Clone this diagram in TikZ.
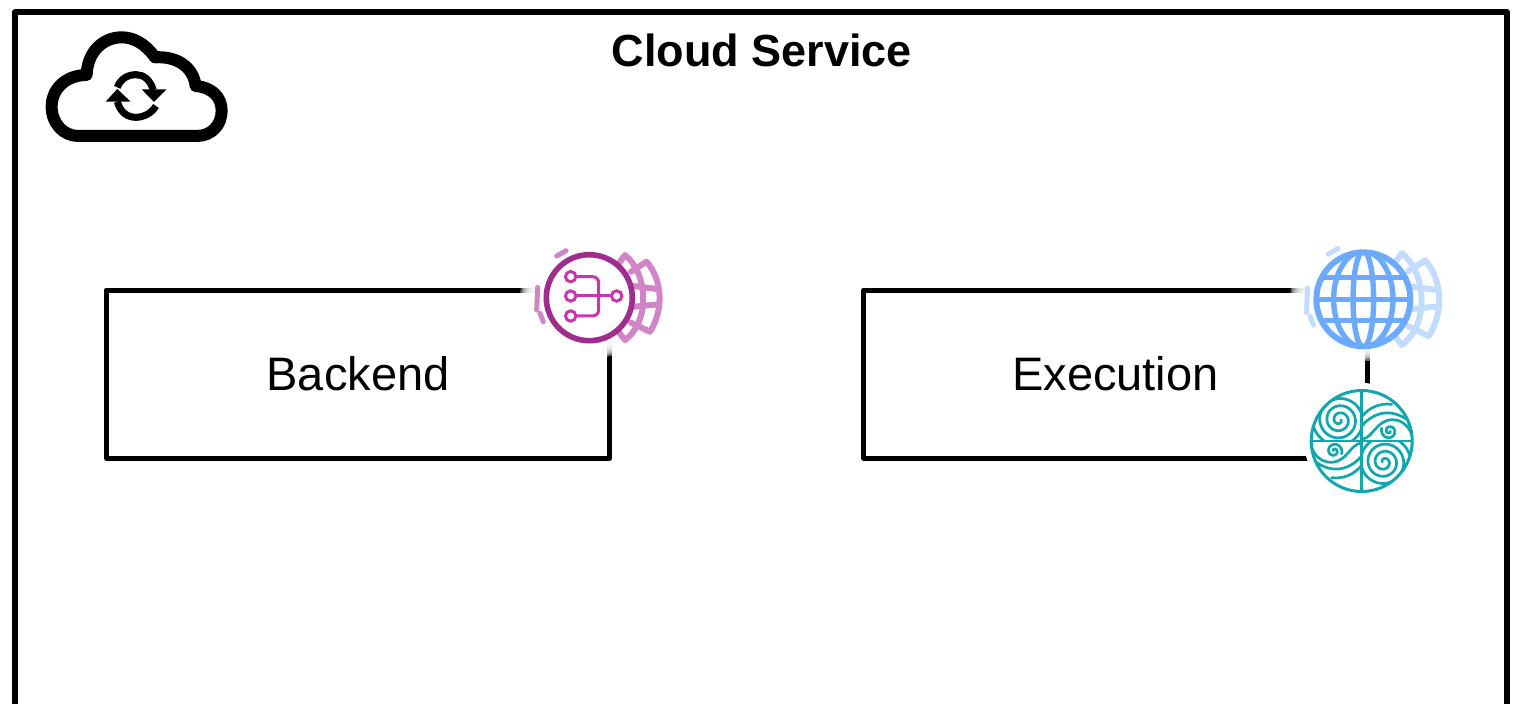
\documentclass[tikz,border=0pt]{standalone}
\usepackage{fontspec}
\setmainfont{Liberation Sans}
\definecolor{purpA}{HTML}{A02C8E}
\definecolor{purpB}{HTML}{C935AE}
\definecolor{purpC}{HTML}{D184C6}
\definecolor{bluA}{HTML}{6CAAFF}
\definecolor{bluC}{HTML}{C2DCFF}
\definecolor{tealA}{HTML}{10A7AE}
\tikzset{
  outerframe/.style={draw=black,line width=5.5pt,line join=round},
  boxnode/.style={draw=black,line width=5pt,line join=round,rectangle,minimum width=503.5pt,minimum height=168pt,inner sep=0pt,font=\fontsize{47}{50}\selectfont},
  titlenode/.style={font=\fontsize{45}{50}\selectfont\bfseries,inner sep=0pt},
  cloudline/.style={draw=black,line width=12pt,line join=round},
  syncline/.style={draw=black,line width=7pt},
  wave/.style={draw=tealA,line width=2.7pt,line cap=round}
}
% fading white halo, centre #1, radii #2 #3
\newcommand\halo[3]{%
  \foreach \k in {1.0,0.97,...,0.76}{
    \fill[white,opacity=.4] #1 ellipse [x radius=\k*#2,y radius=\k*#3];
  }
}
% back grid and dashes, centre #1, scale #2, colour #3
\newcommand\backgrid[3]{%
  \begin{scope}[shift={#1},x=#2*0.3333pt,y=-#2*0.3333pt,draw=#3,line width=6pt,line cap=round,line join=round]
    \draw (125,-78) -- (172,-108) .. controls (222,-50) and (222,40) .. (182,102) -- (125,75);
    \draw (90,-105) -- (107,-128) .. controls (175,-75) and (185,70) .. (107,127) -- (90,105);
    \draw (125,-36) -- (205,-26);
    \draw (125,28) -- (205,20);
    \draw[line width=5pt] (-155,-31) -- (-158,37);
    \draw[line width=5pt] (-148,47) -- (-138,72);
    \draw[line width=5pt] (-98,-125) -- (-70,-141);
  \end{scope}%
}
\begin{document}
\begin{tikzpicture}[x=1pt,y=-1pt]
\useasboundingbox (0,0) rectangle (1519,704);
\fill[white] (0,0) rectangle (1519,704);
% outer frame
\begin{scope}
  \clip (0,0) rectangle (1519,704);
  \draw[outerframe] (15,720) -- (15,12) -- (1507,12) -- (1507,720);
\end{scope}
\node[titlenode] (title) at (762,50) {Cloud Service};
% boxes
\node[boxnode] (backend) at (358,374) {\raisebox{-1pt}{Backend}};
\node[boxnode] (execution) at (1115.5,374) {\raisebox{-1pt}{Execution}};
% cloud icon
\begin{scope}[x=0.3333pt,y=-0.3333pt]
  \coordinate (cloudicon) at (408,288);
  \draw[cloudline] (235,408) -- (590,408) .. controls (635,408) and (665,375) .. (665,332)
    .. controls (665,290) and (635,262) .. (587,258)
    .. controls (580,200) and (530,168) .. (465,172)
    .. controls (435,130) and (400,112) .. (365,112)
    .. controls (310,112) and (262,155) .. (260,225)
    .. controls (200,225) and (155,265) .. (155,320)
    .. controls (155,370) and (190,408) .. (235,408) -- cycle;
  \draw[syncline] (352,262) .. controls (362,235) and (385,224) .. (408,224) .. controls (430,224) and (450,238) .. (460,270);
  \fill[black] (425,268) -- (500,268) -- (462,306) -- cycle;
  \draw[syncline] (468,318) .. controls (455,340) and (430,352) .. (408,352) .. controls (385,352) and (362,340) .. (352,305);
  \fill[black] (317,305) -- (392,305) -- (352,267) -- cycle;
\end{scope}
% backend icon
\halo{(592,298)}{72}{60}
\backgrid{(589.3,297.7)}{1}{purpC}
\filldraw[draw=purpA,fill=white,line width=5.6pt] (589.3,297.7) circle (43);
\begin{scope}[shift={(510,230)},x=0.3333pt,y=-0.3333pt]
  \coordinate (routericon) at (238,203);
  \draw[purpB,line width=3pt,rounded corners=6pt] (198,140) -- (266,140) -- (266,258) -- (198,258);
  \draw[purpB,line width=3pt] (198,198) -- (303,198);
  \foreach \p in {(182,140),(182,198),(182,258),(320,198)}
    \filldraw[draw=purpB,fill=white,line width=3pt] \p circle (5.2pt);
\end{scope}
% globe icon
\halo{(1366,299)}{76}{62}
\backgrid{(1363.3,299.3)}{1.08}{bluC}
\fill[white] (1363.3,299.3) circle (49);
\begin{scope}[shift={(1280,230)},x=0.3333pt,y=-0.3333pt]
  \coordinate (globeicon) at (250,208);
  \draw[bluA,line width=6pt] (250,208) circle (47pt);
  \begin{scope}
    \clip (250,208) circle (47pt);
    \draw[bluA,line width=5.4pt] (250,208) ellipse [x radius=10.3pt,y radius=48pt];
    \draw[bluA,line width=5.4pt] (250,208) ellipse [x radius=29.7pt,y radius=48pt];
    \draw[bluA,line width=5.4pt] (90,143) -- (410,143);
    \draw[bluA,line width=5.4pt] (90,208) -- (410,208);
    \draw[bluA,line width=5.4pt] (90,272) -- (410,272);
  \end{scope}
\end{scope}
% wave icon
\fill[white] (1362,441) circle (58);
\begin{scope}[shift={(1361.7,441)},x=0.3333pt,y=-0.3333pt]
  \coordinate (waveicon) at (0,0);
  \fill[white] (0,0) circle (51pt);
  \foreach \a in {0,180}{
    \begin{scope}[rotate=\a]
      \begin{scope}
      \clip (-150,-150) rectangle (0,0);
      \clip (0,0) circle (50pt);
      \draw[wave] plot[smooth,domain=0:1300,samples=130] ({-67+(5+0.06*\x)*cos(\x)},{-63+(5+0.06*\x)*sin(\x)});
      \end{scope}
      \begin{scope}
      \clip (0,0) circle (50pt);
      \draw[wave] (0,-73) .. controls (22,-100) and (55,-115) .. (90,-110);
      \draw[wave] (0,-45) .. controls (25,-75) and (75,-105) .. (135,-65);
      \draw[wave] (0,-5) .. controls (38,-12) and (42,-62) .. (92,-64) .. controls (122,-63) and (140,-45) .. (150,-20);
      \end{scope}
      \draw[wave] plot[smooth,domain=20:560,samples=40] ({83+(2+0.04*\x)*cos(\x)},{-30+(2+0.04*\x)*sin(\x)});
    \end{scope}
  }
  \draw[tealA,line width=3pt] (0,0) circle (50.5pt);
  \draw[tealA,line width=2.6pt] (0,-152) -- (0,152);
  \draw[tealA,line width=2.6pt] (-152,0) -- (152,0);
\end{scope}
\end{tikzpicture}
\end{document}
